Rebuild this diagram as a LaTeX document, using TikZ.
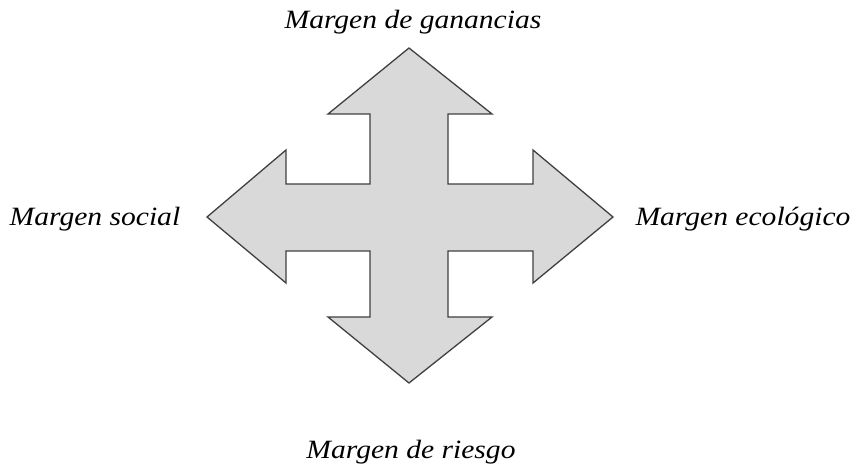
\documentclass[tikz,border=0pt]{standalone}
\usepackage{fontspec}
\setmainfont{Liberation Serif}
\usepackage{graphicx}
\usepackage{tikz}

\newcommand{\widetext}[1]{\scalebox{1.12}[1]{#1}}

\begin{document}
\begin{tikzpicture}[x=1pt, y=-1pt,
    marginlabel/.style={font=\fontsize{26.4}{30}\selectfont\itshape, anchor=base, inner sep=0pt},
    arrowcross/.style={draw=black!75, fill=black!15, line width=1.3pt, line join=miter}]
    \useasboundingbox (0, 0) rectangle (855, 465);
    \draw[arrowcross] (409, 48) -- (492, 114) -- (448, 114) -- (448, 184) -- (533, 184) -- (533, 150)
        -- (613, 217) -- (533, 283) -- (533, 251) -- (448, 251) -- (448, 317) -- (492, 317)
        -- (409, 383) -- (328, 317) -- (370, 317) -- (370, 251) -- (286, 251) -- (286, 283)
        -- (207, 217) -- (286, 150) -- (286, 184) -- (370, 184) -- (370, 114) -- (328, 114) -- cycle;
    \node[marginlabel] (ganancias) at (413, 29) {\widetext{Margen de ganancias}};
    \node[marginlabel] (social) at (95, 226) {\widetext{Margen social}};
    \node[marginlabel] (ecologico) at (743, 226) {\widetext{Margen ecológico}};
    \node[marginlabel] (riesgo) at (411, 458) {\widetext{Margen de riesgo}};
\end{tikzpicture}
\end{document}
